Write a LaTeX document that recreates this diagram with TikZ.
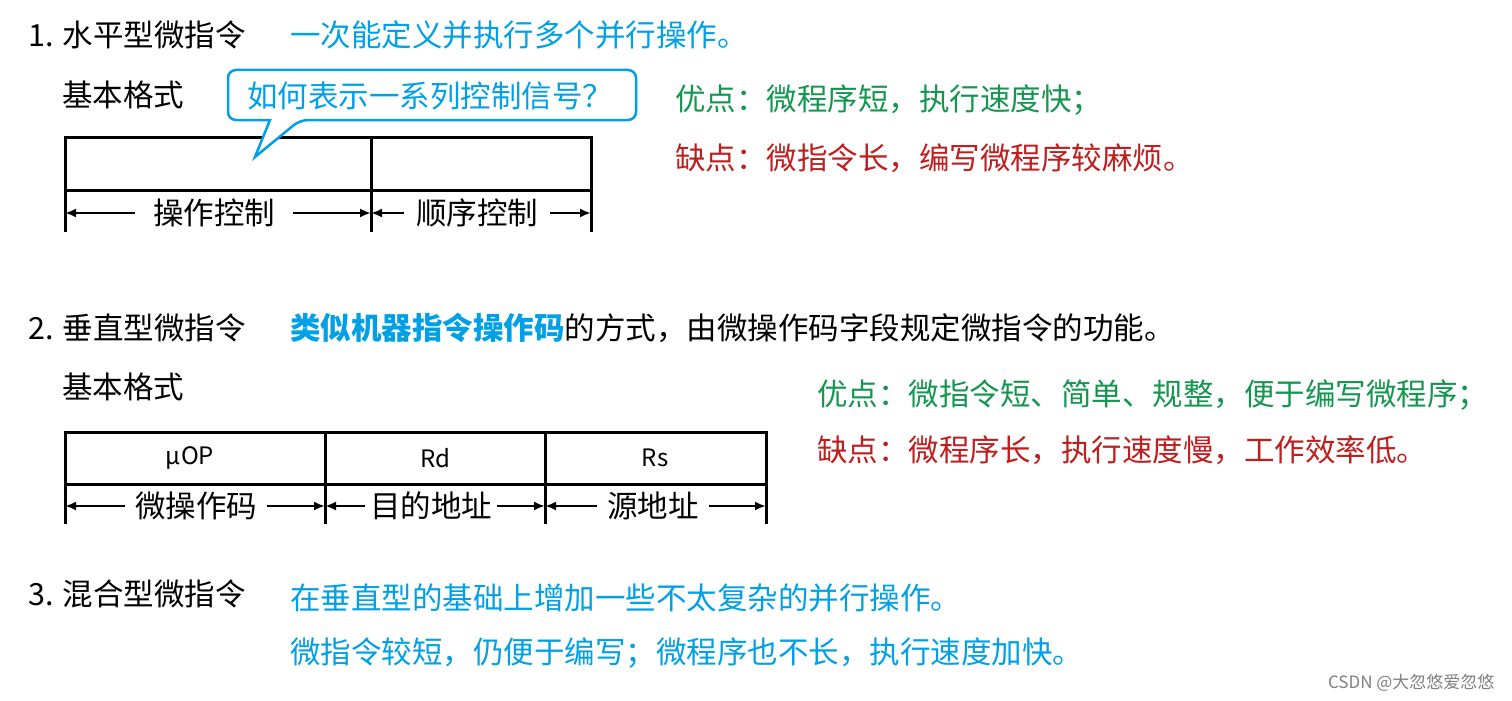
\documentclass[tikz,border=0pt]{standalone}
\usepackage{fontspec}
\setmainfont{Noto Sans CJK SC}
\usetikzlibrary{arrows.meta}
\definecolor{cblue}{RGB}{0,160,230}
\definecolor{cgreen}{RGB}{20,150,80}
\definecolor{cred}{RGB}{190,30,30}
\begin{document}
\begin{tikzpicture}[x=1pt,y=-1pt,
  txt/.style={anchor=west,inner sep=0pt,font=\fontsize{30.5}{33}\selectfont},
  fld/.style={font=\fontsize{24}{26}\selectfont},
  box/.style={line width=3pt},
  arr/.style={line width=2.5pt,-{Latex[length=11pt,width=9pt]}}]
\useasboundingbox[fill=white] (0,0) rectangle (1512,701);
% section 1
\node[txt] (h1) at (28,35) {1. 水平型微指令};
\node[txt,text=cblue] (d1) at (290,35) {一次能定义并执行多个并行操作。};
\node[txt] (f1) at (62,95) {基本格式};
\draw[box] (65,137) rectangle (591,190);
\draw[box] (371,137) -- (371,232);
\draw[box] (65,137) -- (65,232);
\draw[box] (591,137) -- (591,232);
\node[txt,anchor=center,fill=white,inner sep=18pt,inner ysep=4pt] (l1) at (214,213) {操作控制};
\node[txt,anchor=center,fill=white,inner sep=12pt,inner ysep=4pt] (l2) at (477,213) {顺序控制};
\coordinate (a1) at (65,213); \coordinate (a2) at (371,213); \coordinate (a3) at (591,213);
\draw[arr] (l1.west) -- (a1); \draw[arr] (l1.east) -- (a2);
\draw[arr] (l2.west) -- (a2); \draw[arr] (l2.east) -- (a3);
\draw[cblue,line width=2.5pt,fill=white,rounded corners=8pt]
  (228,70) -- (636,70) -- (636,120) -- (300,120) [sharp corners]-- (255,157) -- (270,120) [rounded corners=8pt]-- (228,120) -- cycle;
\node[txt,text=cblue,anchor=center] (c1) at (430,96) {如何表示一系列控制信号？};
\node[txt,text=cgreen] (p1) at (675,100) {优点：微程序短，执行速度快；};
\node[txt,text=cred] (n1) at (675,158) {缺点：微指令长，编写微程序较麻烦。};
% section 2
\node[txt] (h2) at (28,328) {2. 垂直型微指令};
\node[txt] (d2) at (290,328) {\textcolor{cblue}{\bfseries 类似机器指令操作码}的方式，由微操作码字段规定微指令的功能。};
\node[txt] (f2) at (62,387) {基本格式};
\draw[box] (65,432) rectangle (766,484);
\draw[box] (65,432) -- (65,524);
\draw[box] (325,432) -- (325,524);
\draw[box] (545,432) -- (545,524);
\draw[box] (766,432) -- (766,524);
\node[fld] (o1) at (190,458) {μOP};
\node[fld] (o2) at (435,458) {Rd};
\node[fld] (o3) at (655,458) {Rs};
\node[txt,anchor=center,fill=white,inner sep=10pt,inner ysep=4pt] (m1) at (196,506) {微操作码};
\node[txt,anchor=center,fill=white,inner sep=5pt,inner ysep=4pt] (m2) at (431,506) {目的地址};
\node[txt,anchor=center,fill=white,inner sep=10pt,inner ysep=4pt] (m3) at (653,506) {源地址};
\coordinate (b1) at (65,506); \coordinate (b2) at (325,506); \coordinate (b3) at (545,506); \coordinate (b4) at (766,506);
\draw[arr] (m1.west) -- (b1); \draw[arr] (m1.east) -- (b2);
\draw[arr] (m2.west) -- (b2); \draw[arr] (m2.east) -- (b3);
\draw[arr] (m3.west) -- (b3); \draw[arr] (m3.east) -- (b4);
\node[txt,text=cgreen] (p2) at (817,395) {优点：微指令短、简单、规整，便于编写微程序；};
\node[txt,text=cred] (n2) at (817,450) {缺点：微程序长，执行速度慢，工作效率低。};
% section 3
\node[txt] (h3) at (28,594) {3. 混合型微指令};
\node[txt,text=cblue] (d3) at (290,598) {在垂直型的基础上增加一些不太复杂的并行操作。};
\node[txt,text=cblue] (e3) at (290,653) {微指令较短，仍便于编写；微程序也不长，执行速度加快。};
\node[anchor=east,text=gray,font=\fontsize{17}{19}\selectfont] (w) at (1498,683) {CSDN @大忽悠爱忽悠};
\end{tikzpicture}
\end{document}
